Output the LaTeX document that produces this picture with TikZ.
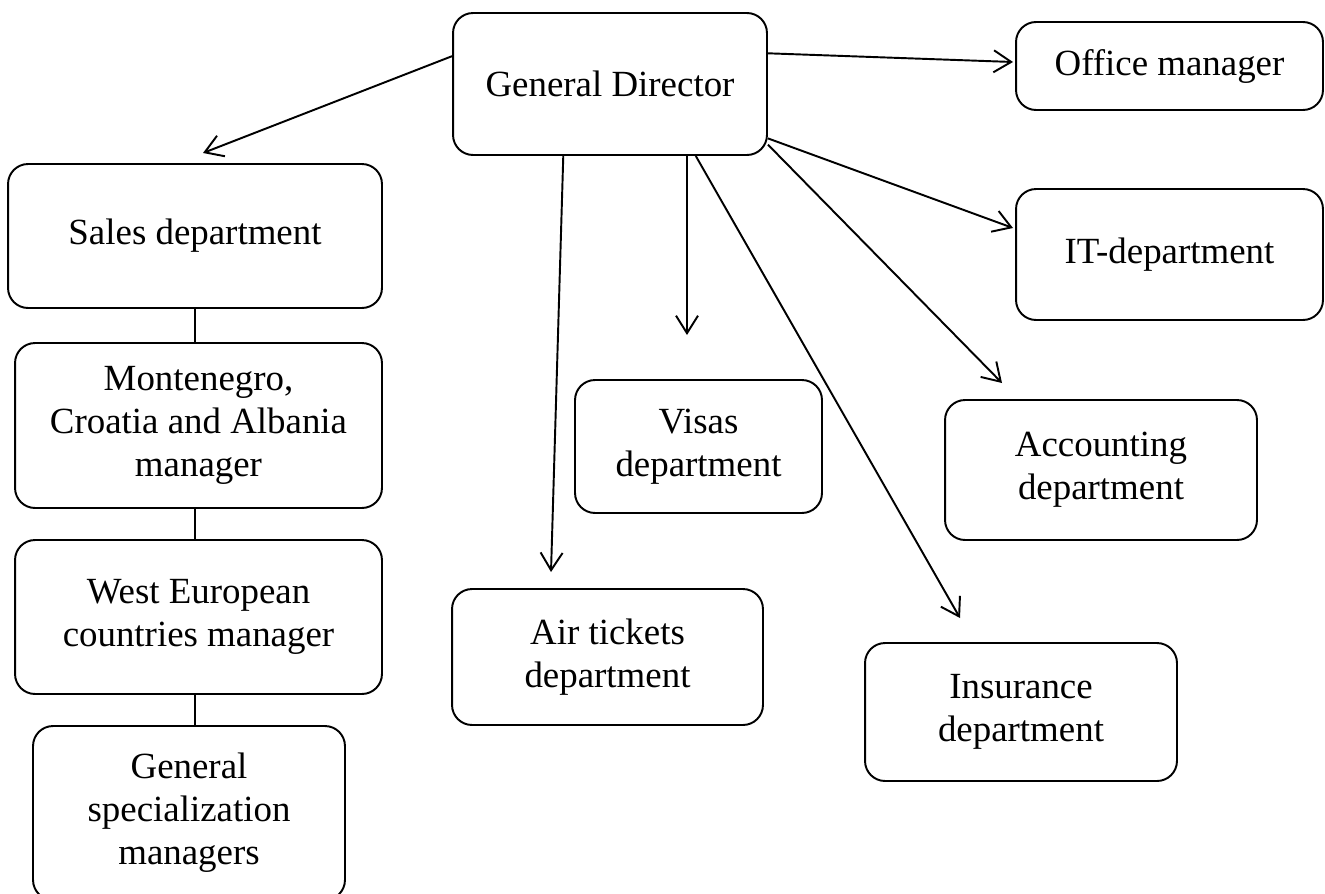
\documentclass[tikz,border=0pt]{standalone}
\usepackage{fontspec}
\setmainfont{Liberation Serif}
\usetikzlibrary{arrows.meta}
\begin{document}
\begin{tikzpicture}[x=0.02cm,y=-0.02cm,
  box/.style={draw, rounded corners=0.4cm, line width=1.1pt, align=center, inner sep=0pt,
              font=\fontsize{21}{24.5}\selectfont},
  conn/.style={line width=1.1pt, -{Straight Barb[length=3.5mm,width=4.4mm]}},
  link/.style={line width=1.1pt}]
\useasboundingbox (0,0) rectangle (1325,893);
% nodes
\node[box, minimum width=6.28cm, minimum height=2.84cm] (gd) at (610,84) {General Director};
\node[box, minimum width=6.14cm, minimum height=1.76cm] (office) at (1169.5,66) {Office manager};
\node[box, minimum width=7.48cm, minimum height=2.88cm] (sales) at (195,236) {Sales department};
\node[box, minimum width=7.34cm, minimum height=3.30cm] (mont) at (198.5,425.5) {Montenegro,\\Croatia and Albania\\manager};
\node[box, minimum width=7.34cm, minimum height=3.08cm] (west) at (198.5,617) {West European\\countries manager};
\node[box, minimum width=6.24cm, minimum height=3.48cm] (gen) at (189,813) {General\\specialization\\managers};
\node[box, minimum width=4.94cm, minimum height=2.66cm] (visas) at (698.5,446.5) {Visas\\department};
\node[box, minimum width=6.22cm, minimum height=2.72cm] (air) at (607.5,657) {Air tickets\\department};
\node[box, minimum width=6.14cm, minimum height=2.62cm] (it) at (1169.5,254.5) {IT-department};
\node[box, minimum width=6.24cm, minimum height=2.80cm] (acc) at (1101,470) {Accounting\\department};
\node[box, minimum width=6.24cm, minimum height=2.76cm] (ins) at (1021,712) {Insurance\\department};
% free arrow ends
\coordinate (tSales) at (203,153);
\coordinate (tOffice) at (1013,62);
\coordinate (tIT) at (1013,228);
\coordinate (tAcc) at (1002,383);
\coordinate (tIns) at (960,618);
\coordinate (tVisas) at (687,335);
\coordinate (tAir) at (551,572);
% connectors
\draw[conn] (gd.170) -- (tSales);
\draw[conn] (gd.11) -- (tOffice);
\draw[conn] (gd.-19) -- (tIT);
\draw[conn] (gd.-21) -- (tAcc);
\draw[conn] (gd.-40.5) -- (tIns);
\draw[conn] (gd.south -| tVisas) -- (tVisas);
\draw[conn] (gd.-123.5) -- (tAir);
\draw[link] (sales.south) -- (sales.south |- mont.north);
\draw[link] (sales.south |- mont.south) -- (sales.south |- west.north);
\draw[link] (sales.south |- west.south) -- (sales.south |- gen.north);
\end{tikzpicture}
\end{document}
